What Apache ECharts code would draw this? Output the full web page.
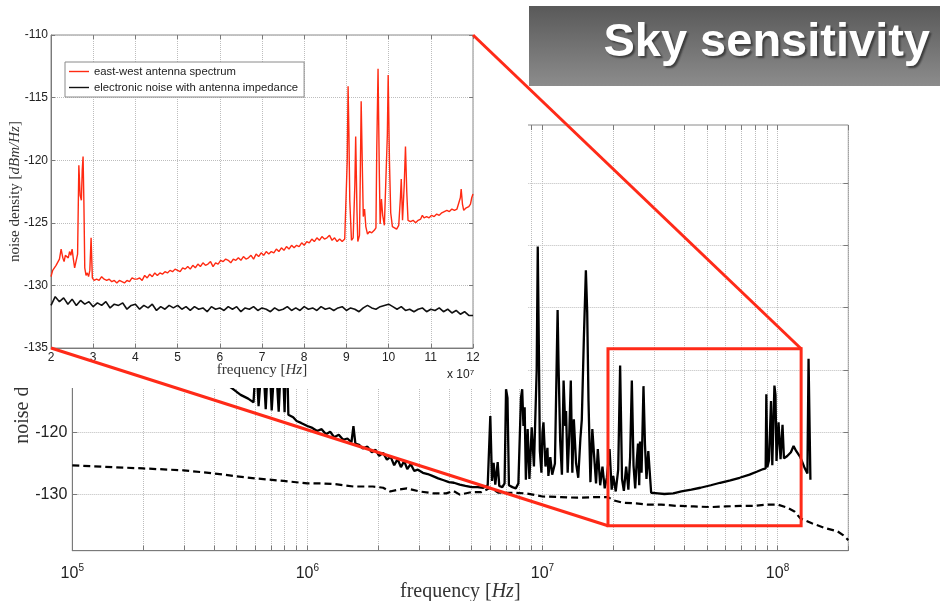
<!DOCTYPE html>
<html>
<head>
<meta charset="utf-8">
<title>Sky sensitivity</title>
<script src="https://cdn.jsdelivr.net/npm/echarts@6/dist/echarts.min.js"></script>
<style>
  html, body { margin: 0; padding: 0; background: #fff; }
  #chart { width: 940px; height: 601px; }
</style>
</head>
<body>
<div id="chart"></div>
<script>
// ---- wide-band spectrum (log frequency axis) ----
// antenna spectrum, [frequency Hz, dBm/Hz]
const antennaWide = [
  [1e5, -96], [1.3e5, -99], [1.7e5, -102], [2.2e5, -105], [2.8e5, -107.5], [3.5e5, -109.5],
  [4.2e5, -111.5], [4.8e5, -113], [5.2e5, -114], [5.6e5, -114.6], [5.9e5, -115.2], [6.05e5, -108],
  [6.2e5, -115.8], [6.45e5, -107], [6.65e5, -116.3], [6.85e5, -106], [7.05e5, -116.5], [7.3e5, -107],
  [7.55e5, -116.7], [7.8e5, -105], [8.0e5, -116.8], [8.15e5, -104], [8.3e5, -117.2], [8.7e5, -117.6],
  [9.0e5, -118.2], [9.4e5, -118.5], [1.0e6, -119.0], [1.05e6, -119.3], [1.1e6, -119.8], [1.15e6, -119.5],
  [1.2e6, -120.3], [1.25e6, -119.9], [1.3e6, -120.8], [1.36e6, -120.4], [1.42e6, -121.2], [1.48e6, -121.0],
  [1.54e6, -121.6], [1.57e6, -119.0], [1.6e6, -121.8], [1.66e6, -122.0], [1.72e6, -122.6], [1.8e6, -122.3],
  [1.88e6, -123.2], [1.95e6, -122.8], [2.02e6, -123.8], [2.1e6, -123.3], [2.18e6, -124.4], [2.26e6, -123.9],
  [2.34e6, -125.3], [2.42e6, -124.3], [2.5e6, -125.6], [2.58e6, -124.6], [2.66e6, -125.9], [2.75e6, -125.1],
  [2.85e6, -126.2], [2.95e6, -126.0], [3.1e6, -126.5], [3.25e6, -126.7], [3.4e6, -127.0], [3.6e6, -127.4],
  [3.8e6, -127.7], [4.0e6, -128.0], [4.2e6, -128.1], [4.45e6, -128.4], [4.7e6, -128.6], [5.0e6, -128.8],
  [5.3e6, -128.8], [5.6e6, -128.9], [5.85e6, -128.5], [6.0e6, -117.4], [6.1e6, -127.8], [6.2e6, -124.9],
  [6.3e6, -128.4], [6.45e6, -124.8], [6.55e6, -128.6], [6.75e6, -128.8], [6.9e6, -128.2], [7.0e6, -113.1],
  [7.1e6, -114.5], [7.2e6, -128.5], [7.45e6, -128.8], [7.7e6, -129.0], [7.9e6, -128.2], [8.1e6, -114.5],
  [8.2e6, -113.1], [8.3e6, -119], [8.4e6, -116], [8.5e6, -127.6], [8.65e6, -119.5], [8.8e6, -127.5],
  [9.0e6, -119.2], [9.2e6, -125.5], [9.45e6, -110], [9.55e6, -90.2], [9.65e6, -106], [9.75e6, -123],
  [9.9e6, -126.5], [1.0e7, -120], [1.01e7, -118.4], [1.03e7, -125.5], [1.05e7, -122.5], [1.06e7, -127],
  [1.08e7, -124], [1.1e7, -126.8], [1.13e7, -125], [1.16e7, -100.4], [1.17e7, -108.8], [1.19e7, -121.5],
  [1.21e7, -126.8], [1.23e7, -111.7], [1.25e7, -119], [1.26e7, -116.6], [1.28e7, -126.5], [1.3e7, -120.5],
  [1.32e7, -111.7], [1.34e7, -126.5], [1.36e7, -117.9], [1.39e7, -125], [1.42e7, -127.3], [1.45e7, -121],
  [1.47e7, -118], [1.5e7, -105], [1.53e7, -94], [1.55e7, -100.7], [1.57e7, -115], [1.6e7, -128],
  [1.63e7, -119.5], [1.66e7, -124], [1.69e7, -128.2], [1.72e7, -122.7], [1.76e7, -128.5], [1.8e7, -125.5],
  [1.84e7, -129.0], [1.88e7, -127.2], [1.93e7, -122.7], [1.97e7, -129.2], [2.0e7, -127], [2.05e7, -129.5],
  [2.1e7, -126], [2.14e7, -109.3], [2.18e7, -127.5], [2.22e7, -129.4], [2.27e7, -125.5], [2.32e7, -129.2],
  [2.36e7, -124], [2.4e7, -111.7], [2.44e7, -125.3], [2.48e7, -129], [2.52e7, -124.5], [2.55e7, -121.8],
  [2.58e7, -128.5], [2.6e7, -121.5], [2.64e7, -126.5], [2.69e7, -112.6], [2.73e7, -122], [2.77e7, -127.5],
  [2.82e7, -123], [2.87e7, -123], [2.9e7, -129.7], [2.95e7, -129.6], [3.1e7, -129.8], [3.3e7, -129.9],
  [3.6e7, -129.8], [3.9e7, -129.5], [4.3e7, -129.2], [4.7e7, -128.9], [5.2e7, -128.5], [5.7e7, -128.1],
  [6.3e7, -127.7], [6.9e7, -127.3], [7.6e7, -126.8], [8.2e7, -126.3], [8.7e7, -125.9], [8.9e7, -125.8],
  [8.96e7, -113.9], [9.05e7, -125.6], [9.2e7, -124.5], [9.38e7, -115], [9.5e7, -125.3], [9.7e7, -112.5],
  [9.8e7, -114], [9.9e7, -124.6], [1.01e8, -118.4], [1.03e8, -124.3], [1.05e8, -118.8], [1.065e8, -124.2],
  [1.1e8, -123.8], [1.14e8, -123.2], [1.17e8, -122.2], [1.2e8, -123.0], [1.25e8, -124], [1.3e8, -125.6],
  [1.34e8, -126.6], [1.355e8, -108.2], [1.37e8, -108.5], [1.38e8, -127.6]
];

// electronic noise floor, [frequency Hz, dBm/Hz]
const noiseWide = [
  [1e5, -125.3], [1.5e5, -125.6], [2e5, -125.8], [2.97e5, -126.1], [4e5, -126.6], [4.84e5, -127],
  [6e5, -127.4], [7.9e5, -127.8], [1e6, -128.2], [1.15e6, -128.2], [1.3e6, -128.3], [1.57e6, -128.7],
  [1.9e6, -128.7], [2.1e6, -128.9], [2.25e6, -129.5], [2.45e6, -129.2], [2.65e6, -129.0], [3.0e6, -129.5],
  [3.44e6, -129.8], [3.9e6, -129.8], [4.17e6, -129.4], [4.45e6, -130], [5.0e6, -129.6], [5.5e6, -129.6],
  [6.0e6, -128.9], [6.5e6, -129.7], [7.5e6, -129.7], [8.5e6, -129.8], [1.0e7, -130.3], [1.2e7, -130.4],
  [1.4e7, -130.5], [1.7e7, -130.4], [1.9e7, -130.4], [2.0e7, -130.9], [2.2e7, -131.3], [2.5e7, -131.4],
  [2.8e7, -131.6], [3.2e7, -131.6], [3.7e7, -131.8], [4.4e7, -131.9], [5.2e7, -132.0], [6e7, -131.9],
  [7e7, -131.8], [8e7, -131.8], [9e7, -131.6], [1.0e8, -131.6], [1.1e8, -132.1], [1.18e8, -132.7],
  [1.25e8, -133.8], [1.4e8, -134.6], [1.6e8, -135.4], [1.8e8, -135.9], [1.9e8, -136.5], [2.0e8, -137.3]
];

// ---- zoomed band 20-120 MHz (linear axis) ----
const antennaZoom = [
  [2.00e7, -129.3], [2.04e7, -128.8], [2.08e7, -128.6], [2.12e7, -128.4], [2.16e7, -128.4], [2.20e7, -127.9],
  [2.24e7, -127.1], [2.28e7, -127.8], [2.31e7, -128.1], [2.34e7, -127.6], [2.38e7, -127.5], [2.41e7, -127.8],
  [2.44e7, -127.3], [2.47e7, -127.6], [2.50e7, -127.1], [2.53e7, -127.9], [2.56e7, -128.6], [2.60e7, -128.7],
  [2.63e7, -127.5], [2.66e7, -120.4], [2.69e7, -122.8], [2.72e7, -123.2], [2.74e7, -120.8], [2.76e7, -119.7],
  [2.78e7, -123.5], [2.80e7, -128.6], [2.83e7, -129.2], [2.86e7, -129.0], [2.89e7, -129.3], [2.92e7, -128.8],
  [2.95e7, -126.2], [2.98e7, -129.4], [3.02e7, -129.6], [3.08e7, -129.5], [3.14e7, -129.6], [3.20e7, -129.3],
  [3.26e7, -129.5], [3.32e7, -129.6], [3.38e7, -129.5], [3.44e7, -129.7], [3.50e7, -129.6], [3.56e7, -129.8],
  [3.62e7, -129.6], [3.68e7, -129.7], [3.74e7, -129.8], [3.80e7, -129.6], [3.86e7, -129.7], [3.92e7, -129.4],
  [3.98e7, -129.5], [4.04e7, -129.5], [4.10e7, -129.4], [4.16e7, -129.6], [4.22e7, -129.2], [4.28e7, -129.4],
  [4.34e7, -129.1], [4.40e7, -129.3], [4.46e7, -129.0], [4.52e7, -129.2], [4.58e7, -129.0], [4.64e7, -129.1],
  [4.70e7, -128.9], [4.76e7, -129.0], [4.82e7, -128.8], [4.88e7, -128.9], [4.94e7, -128.7], [5.00e7, -128.8],
  [5.06e7, -128.9], [5.12e7, -128.6], [5.18e7, -128.7], [5.24e7, -128.5], [5.30e7, -128.7], [5.36e7, -128.4],
  [5.42e7, -128.6], [5.48e7, -128.3], [5.54e7, -128.5], [5.60e7, -128.2], [5.66e7, -128.4], [5.72e7, -128.3],
  [5.78e7, -128.1], [5.84e7, -128.5], [5.90e7, -128.2], [5.96e7, -128.3], [6.02e7, -128.0], [6.08e7, -128.1],
  [6.14e7, -127.9], [6.20e7, -128.0], [6.26e7, -128.2], [6.32e7, -127.9], [6.38e7, -128.0], [6.44e7, -127.8],
  [6.50e7, -128.0], [6.56e7, -127.7], [6.62e7, -127.9], [6.68e7, -127.8], [6.74e7, -127.6], [6.80e7, -127.9],
  [6.86e7, -127.5], [6.92e7, -127.7], [6.98e7, -127.4], [7.04e7, -127.6], [7.10e7, -127.3], [7.16e7, -127.5],
  [7.22e7, -127.3], [7.28e7, -127.4], [7.34e7, -127.1], [7.40e7, -127.3], [7.46e7, -127.0], [7.52e7, -127.2],
  [7.58e7, -126.9], [7.64e7, -127.1], [7.70e7, -126.8], [7.76e7, -127.0], [7.82e7, -126.8], [7.88e7, -126.9],
  [7.94e7, -126.6], [8.00e7, -126.8], [8.06e7, -126.5], [8.12e7, -126.6], [8.18e7, -126.3], [8.24e7, -126.5],
  [8.30e7, -126.2], [8.36e7, -126.4], [8.42e7, -126.1], [8.48e7, -126.3], [8.54e7, -126.2], [8.60e7, -126.0],
  [8.66e7, -126.4], [8.72e7, -126.2], [8.78e7, -126.5], [8.84e7, -126.3], [8.90e7, -126.5], [8.96e7, -126.3],
  [9.00e7, -126.4], [9.02e7, -120.0], [9.04e7, -114.1], [9.06e7, -118.0], [9.08e7, -123.2], [9.12e7, -126.4],
  [9.16e7, -126.2], [9.20e7, -122.0], [9.22e7, -118.1], [9.25e7, -124.0], [9.27e7, -126.5], [9.31e7, -126.0],
  [9.33e7, -121.0], [9.35e7, -115.3], [9.38e7, -121.0], [9.40e7, -124.5], [9.43e7, -123.9], [9.46e7, -125.3],
  [9.50e7, -125.9], [9.55e7, -125.7], [9.60e7, -125.8], [9.66e7, -125.6], [9.70e7, -125.4], [9.72e7, -119.0],
  [9.75e7, -112.7], [9.78e7, -121.0], [9.80e7, -125.1], [9.83e7, -123.1], [9.86e7, -124.4], [9.90e7, -125.2],
  [9.94e7, -125.3], [9.97e7, -118.0], [9.99e7, -113.2], [10.02e7, -120.0], [10.05e7, -124.2], [10.09e7, -125.3],
  [10.14e7, -125.4], [10.19e7, -125.5], [10.24e7, -125.2], [10.28e7, -123.0], [10.30e7, -121.5], [10.33e7, -124.8],
  [10.37e7, -122.0], [10.40e7, -118.9], [10.43e7, -122.5], [10.46e7, -124.8], [10.52e7, -124.9], [10.58e7, -124.8],
  [10.64e7, -125.0], [10.70e7, -124.8], [10.76e7, -124.7], [10.80e7, -124.4], [10.84e7, -124.6], [10.90e7, -124.5],
  [10.96e7, -124.6], [11.02e7, -124.4], [11.08e7, -124.5], [11.14e7, -124.3], [11.20e7, -124.4], [11.26e7, -124.2],
  [11.32e7, -124.1], [11.38e7, -124.0], [11.44e7, -124.1], [11.50e7, -123.9], [11.56e7, -124.0], [11.62e7, -123.9],
  [11.66e7, -124.0], [11.70e7, -123.0], [11.72e7, -122.3], [11.75e7, -123.5], [11.78e7, -124.0], [11.84e7, -123.8],
  [11.90e7, -123.7], [11.94e7, -123.5], [11.97e7, -123.0], [12.00e7, -122.7]
];

// electronic noise in the zoomed band, sampled every 1 MHz from 20 MHz
const noiseZoomStart = 2e7;
const noiseZoomStep = 1e6;
const noiseZoomLevel = [
  -131.6, -130.9, -131.3, -131.0, -131.5, -131.1, -131.6, -131.2, -131.5, -131.3,
  -131.7, -131.4, -131.6, -131.3, -131.8, -131.5, -131.6, -131.4, -131.9, -131.6,
  -131.5, -131.9, -131.6, -131.8, -131.5, -132.0, -131.7, -131.9, -131.6, -131.8,
  -131.6, -131.9, -131.7, -132.0, -131.7, -131.9, -131.8, -132.1, -131.7, -131.9,
  -131.8, -132.0, -131.7, -131.9, -131.7, -132.1, -131.8, -131.9, -131.7, -132.0,
  -131.8, -131.9, -132.1, -131.8, -132.0, -131.9, -131.7, -132.0, -131.8, -132.0,
  -131.7, -131.9, -131.8, -132.0, -131.7, -131.9, -131.8, -132.0, -131.8, -131.7,
  -132.0, -131.8, -131.9, -132.1, -131.8, -131.6, -131.8, -131.9, -131.7, -131.6,
  -131.5, -131.7, -131.9, -131.7, -132.0, -131.9, -132.1, -131.9, -131.8, -132.1,
  -131.9, -132.0, -131.8, -132.1, -131.9, -132.2, -132.0, -132.3, -132.1, -132.4, -132.4
];

// axis ticks
const wideDecades = [1e5, 1e6, 1e7, 1e8];
const wideLevelTicks = [-130, -120, -110, -100, -90, -80];
// region of the wide plot that the zoomed plot shows (frequency Hz, dBm/Hz)
const zoomBoxFreq = [1.9e7, 1.26e8];
const zoomBoxLevel = [-135, -106.6];

const legendNames = ['east-west antenna spectrum', 'electronic noise with antenna impedance'];

// minor log ticks 1..9 x decade, up to the 200 MHz axis end
const wideTicks = [];
wideDecades.forEach(d => { for (let m = 1; m <= 9; m++) { if (d * m <= 2e8) wideTicks.push(d * m); } });

const noiseZoom = noiseZoomLevel.map((v, i) => [noiseZoomStart + i * noiseZoomStep, v]);

const SANS = "'Liberation Sans', Arial, Helvetica, sans-serif";
const SERIF = "'Liberation Serif', 'Times New Roman', serif";
const GRID_LINE = { show: true, lineStyle: { color: '#bdbdbd', type: 'dotted', width: 1 } };
const AXIS_LINE = { show: true, lineStyle: { color: '#7a7a7a', width: 1 } };
const TICK_COLOR = '#7a7a7a';

function serifName(size) {
  return {
    fontFamily: SERIF, fontSize: size, color: '#333',
    rich: {
      b: { fontFamily: SERIF, fontSize: size, color: '#333' },
      i: { fontFamily: SERIF, fontSize: size, fontStyle: 'italic', color: '#333' }
    }
  };
}

// box-style mirror axis: inward ticks only
function mirrorAxis(base, extra) {
  return Object.assign({
    axisLine: { show: false }, axisLabel: { show: false }, splitLine: { show: false }
  }, base, extra);
}

const chart = echarts.init(document.getElementById('chart'), null, { renderer: 'canvas' });

const INSET_Z = 60;

const option = {
  animation: false,
  backgroundColor: '#fff',
  grid: [
    { left: 72.3, top: 125, width: 776, height: 425.7, show: true, borderColor: '#8a8a8a', borderWidth: 1,
      backgroundColor: 'transparent', containLabel: false, outerBoundsMode: 'none' },
    { left: 51, top: 35, width: 422, height: 313, show: true, borderColor: '#8a8a8a', borderWidth: 1,
      backgroundColor: '#fff', z: INSET_Z, containLabel: false, outerBoundsMode: 'none' }
  ],
  xAxis: [
    {
      type: 'log', gridIndex: 0, min: 1e5, max: 2e8, logBase: 10,
      axisLine: AXIS_LINE,
      axisTick: { show: true, inside: true, length: 5, customValues: wideTicks, lineStyle: { color: TICK_COLOR } },
      splitLine: GRID_LINE,
      minorTick: { show: false }, minorSplitLine: { show: false },
      axisLabel: {
        customValues: wideDecades, margin: 13, color: '#222', fontFamily: SANS,
        formatter: v => '{b|10}{s|' + Math.round(Math.log10(v)) + '}',
        rich: {
          b: { fontSize: 16, lineHeight: 20, fontFamily: SANS, color: '#222' },
          s: { fontSize: 10, lineHeight: 6, verticalAlign: 'top', fontFamily: SANS, color: '#222' }
        }
      },
      name: 'frequency {b|[}{i|Hz}{b|]}', nameLocation: 'middle', nameGap: 31, nameMoveOverlap: false,
      nameTextStyle: serifName(20)
    },
    {
      type: 'value', gridIndex: 1, min: 2e7, max: 12e7, interval: 1e7, z: INSET_Z,
      axisLine: AXIS_LINE,
      axisTick: { show: true, inside: true, length: 4, lineStyle: { color: TICK_COLOR } },
      splitLine: GRID_LINE,
      axisLabel: { margin: 4, fontSize: 12, color: '#222', fontFamily: SANS, formatter: v => String(Math.round(v / 1e7)) },
      name: 'frequency {b|[}{i|Hz}{b|]}', nameLocation: 'middle', nameGap: 15, nameMoveOverlap: false,
      nameTextStyle: serifName(15)
    },
    mirrorAxis({ type: 'log', gridIndex: 0, min: 1e5, max: 2e8, logBase: 10, position: 'top' },
      { axisTick: { show: true, inside: true, length: 5, customValues: wideTicks, lineStyle: { color: TICK_COLOR } } }),
    mirrorAxis({ type: 'value', gridIndex: 1, min: 2e7, max: 12e7, interval: 1e7, position: 'top', z: INSET_Z },
      { axisTick: { show: true, inside: true, length: 4, lineStyle: { color: TICK_COLOR } } })
  ],
  yAxis: [
    {
      type: 'value', gridIndex: 0, min: -139, max: -70.7,
      axisLine: AXIS_LINE,
      axisTick: { show: true, inside: true, length: 5, customValues: wideLevelTicks, lineStyle: { color: TICK_COLOR } },
      splitLine: GRID_LINE,
      axisLabel: { customValues: wideLevelTicks, margin: 5, fontSize: 16, color: '#222', fontFamily: SANS },
      name: 'noise density {b|[}{i|dBm/Hz}{b|]}', nameLocation: 'middle', nameGap: 40, nameMoveOverlap: false,
      nameTextStyle: Object.assign(serifName(20), { padding: [0, 24, 0, 0] })
    },
    {
      type: 'value', gridIndex: 1, min: -135, max: -110, interval: 5, z: INSET_Z,
      axisLine: AXIS_LINE,
      axisTick: { show: true, inside: true, length: 4, lineStyle: { color: TICK_COLOR } },
      splitLine: GRID_LINE,
      axisLabel: { margin: 3, fontSize: 12, color: '#222', fontFamily: SANS },
      name: 'noise density {b|[}{i|dBm/Hz}{b|]}', nameLocation: 'middle', nameGap: 28, nameMoveOverlap: false,
      nameTextStyle: serifName(15)
    },
    mirrorAxis({ type: 'value', gridIndex: 0, min: -139, max: -70.7, position: 'right' },
      { axisTick: { show: true, inside: true, length: 5, customValues: wideLevelTicks, lineStyle: { color: TICK_COLOR } } }),
    mirrorAxis({ type: 'value', gridIndex: 1, min: -135, max: -110, interval: 5, position: 'right', z: INSET_Z },
      { axisTick: { show: true, inside: true, length: 4, lineStyle: { color: TICK_COLOR } } })
  ],
  legend: {
    data: legendNames, orient: 'vertical', left: 65, top: 62, z: INSET_Z + 5,
    itemWidth: 20, itemHeight: 10, itemGap: 5, padding: [4, 6, 4, 4],
    borderColor: '#8a8a8a', borderWidth: 1, borderRadius: 0, backgroundColor: '#fff',
    textStyle: { fontSize: 11.3, color: '#222', fontFamily: SANS },
    icon: 'path://M0,5L20,5L20,6.4L0,6.4Z'
  },
  series: [
    {
      name: 'wide-antenna', type: 'line', xAxisIndex: 0, yAxisIndex: 0, data: antennaWide,
      symbol: 'none', lineStyle: { color: '#000', width: 2.3 }, itemStyle: { color: '#000' }, z: 3
    },
    {
      name: 'wide-noise', type: 'line', xAxisIndex: 0, yAxisIndex: 0, data: noiseWide,
      symbol: 'none', lineStyle: { color: '#000', width: 2.2, type: [7, 4] }, itemStyle: { color: '#000' }, z: 3
    },
    {
      name: legendNames[0], type: 'line', xAxisIndex: 1, yAxisIndex: 1, data: antennaZoom,
      symbol: 'none', lineStyle: { color: '#ff2a12', width: 1.4 }, itemStyle: { color: '#ff2a12' }, z: INSET_Z + 2
    },
    {
      name: legendNames[1], type: 'line', xAxisIndex: 1, yAxisIndex: 1, data: noiseZoom,
      symbol: 'none', lineStyle: { color: '#111', width: 1.6 }, itemStyle: { color: '#111' }, z: INSET_Z + 1
    }
  ]
};

chart.setOption(option);

// overlay graphics: mask behind the inset, zoom box, connector lines, title banner
const insetTR = chart.convertToPixel({ xAxisIndex: 1, yAxisIndex: 1 }, [12e7, -110]);
const insetBL = chart.convertToPixel({ xAxisIndex: 1, yAxisIndex: 1 }, [2e7, -135]);
const boxTL = chart.convertToPixel({ xAxisIndex: 0, yAxisIndex: 0 }, [zoomBoxFreq[0], zoomBoxLevel[1]]);
const boxBR = chart.convertToPixel({ xAxisIndex: 0, yAxisIndex: 0 }, [zoomBoxFreq[1], zoomBoxLevel[0]]);
const RED = '#ff2a18';

chart.setOption({
  graphic: [
    { type: 'rect', z: 50, silent: true, shape: { x: 0, y: 0, width: 528, height: 388 }, style: { fill: '#fff' } },
    {
      type: 'text', z: INSET_Z + 5, left: 447, top: 369,
      style: {
        text: 'x 10{s|7}', fill: '#222', font: '12px ' + SANS,
        rich: { s: { fontSize: 8, verticalAlign: 'top', lineHeight: 6, fill: '#222', fontFamily: SANS } }
      }
    },
    {
      type: 'rect', z: 100, silent: true,
      shape: { x: boxTL[0], y: boxTL[1], width: boxBR[0] - boxTL[0], height: boxBR[1] - boxTL[1] },
      style: { fill: 'none', stroke: RED, lineWidth: 3 }
    },
    { type: 'line', z: 100, silent: true, shape: { x1: insetTR[0], y1: insetTR[1], x2: boxBR[0], y2: boxTL[1] }, style: { stroke: RED, lineWidth: 3 } },
    { type: 'line', z: 100, silent: true, shape: { x1: insetBL[0], y1: insetBL[1], x2: boxTL[0], y2: boxBR[1] }, style: { stroke: RED, lineWidth: 3 } },
    {
      type: 'rect', z: 100, silent: true, shape: { x: 529, y: 6, width: 411, height: 80 },
      style: {
        fill: new echarts.graphic.LinearGradient(0, 0, 0, 1, [
          { offset: 0, color: '#595959' }, { offset: 1, color: '#8c8c8c' }
        ])
      }
    },
    {
      type: 'text', z: 101, silent: true, x: 930, y: 43,
      style: {
        text: 'Sky sensitivity', align: 'right', verticalAlign: 'middle',
        font: 'bold 47px ' + SANS, fill: '#fff',
        textShadowColor: 'rgba(40,40,40,0.75)', textShadowOffsetX: 2, textShadowOffsetY: 2, textShadowBlur: 2
      }
    }
  ]
});
</script>
</body>
</html>
